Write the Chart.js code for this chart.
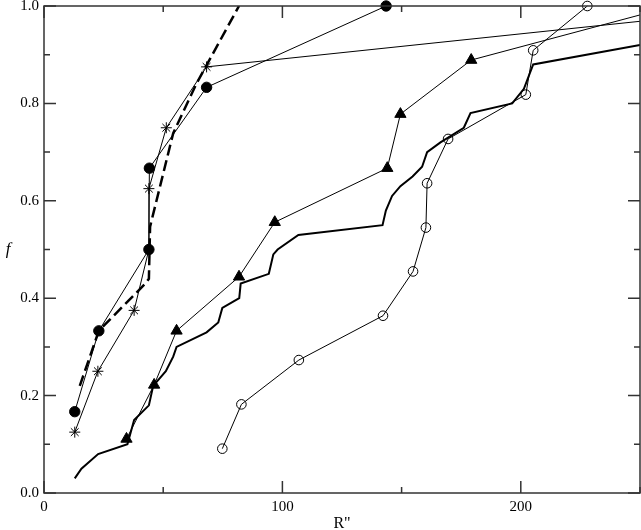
<!DOCTYPE html>
<html>
<head>
<meta charset="utf-8">
<script src="https://cdn.jsdelivr.net/npm/chart.js@4.4.1/dist/chart.umd.min.js"></script>
<style>
  html, body { margin: 0; padding: 0; background: #fff; }
  #wrap { width: 641px; height: 530px; position: relative; }
</style>
</head>
<body>
<div id="wrap"><canvas id="chart"></canvas></div>
<script>
// Dados (R'' no eixo x, f no eixo y)
const dotX = [12.9, 23, 44, 44.2, 68.2, 143.5];
const dotY = [0.167, 0.333, 0.5, 0.667, 0.833, 1.0];

const starX = [12.9, 22.6, 37.8, 44, 44, 51.3, 68.2, 311];
const starY = [0.125, 0.25, 0.375, 0.5, 0.625, 0.75, 0.875, 1.0];

const triX = [34.6, 46.2, 55.6, 81.8, 96.8, 144, 149.5, 179.2, 264];
const triY = [0.111, 0.222, 0.333, 0.444, 0.556, 0.667, 0.778, 0.889, 1.0];

const ringX = [74.8, 82.8, 106.9, 142.2, 154.8, 160.2, 160.7, 169.5, 202.1, 205.2, 227.9];
const ringY = [0.091, 0.182, 0.273, 0.364, 0.455, 0.545, 0.636, 0.727, 0.818, 0.909, 1.0];

const thickX = [12.9, 15.7, 22.7, 35.0, 37.8, 44, 45.8, 51.1, 54.2, 55.6, 68.2, 73.1, 74.8, 81.9, 82.5, 94.3, 96.2, 98, 106.7, 142, 143.4, 146, 149.5, 154.6, 158.6, 160.7, 166.3, 176.1, 178.9, 196.4, 201.3, 205.2, 250];
const thickY = [0.03, 0.05, 0.08, 0.10, 0.15, 0.18, 0.22, 0.25, 0.28, 0.30, 0.33, 0.35, 0.38, 0.40, 0.43, 0.45, 0.49, 0.50, 0.53, 0.55, 0.58, 0.61, 0.63, 0.65, 0.67, 0.70, 0.72, 0.75, 0.78, 0.80, 0.83, 0.88, 0.92];

const dashX = [15, 23, 42.7, 44, 44.5, 54.2, 64, 81.8];
const dashY = [0.22, 0.333, 0.431, 0.44, 0.547, 0.739, 0.841, 1.0];

const xMajor = [0, 100, 200];
const xMinor = [50, 150, 250];
const yMajor = [0, 0.2, 0.4, 0.6, 0.8, 1.0];
const yMinor = [0.1, 0.3, 0.5, 0.7, 0.9];

const FONT = '"Liberation Serif", "DejaVu Serif", serif';

function pts(xs, ys) {
    return xs.map((x, i) => ({ x: x, y: ys[i] }));
}

// zera o padding que o Chart.js reserva para os rótulos nas pontas
function noPad(s) {
    s.paddingTop = 0;
    s.paddingBottom = 0;
    s.paddingLeft = 0;
    s.paddingRight = 0;
}

// moldura, ticks para dentro e o rótulo "f"
const frameTicks = {
    id: 'frameTicks',
    afterDraw(chart) {
        const { ctx, chartArea: a, scales: { x, y } } = chart;
        ctx.save();
        ctx.strokeStyle = '#333';
        ctx.lineWidth = 1.5;
        ctx.strokeRect(a.left, a.top, a.right - a.left, a.bottom - a.top);
        ctx.beginPath();
        const xt = (v, len) => {
            const p = x.getPixelForValue(v);
            ctx.moveTo(p, a.bottom); ctx.lineTo(p, a.bottom - len);
            ctx.moveTo(p, a.top); ctx.lineTo(p, a.top + len);
        };
        const yt = (v, len) => {
            const p = y.getPixelForValue(v);
            ctx.moveTo(a.left, p); ctx.lineTo(a.left + len, p);
            ctx.moveTo(a.right, p); ctx.lineTo(a.right - len, p);
        };
        xMajor.forEach(v => xt(v, 12));
        xMinor.forEach(v => xt(v, 6));
        yMajor.forEach(v => yt(v, 12));
        yMinor.forEach(v => yt(v, 6));
        ctx.stroke();
        ctx.fillStyle = '#000';
        ctx.font = 'italic 17px ' + FONT;
        ctx.textAlign = 'center';
        ctx.textBaseline = 'middle';
        ctx.fillText('f', 8, (a.top + a.bottom) / 2);
        ctx.restore();
    }
};

new Chart(document.getElementById('chart').getContext('2d'), {
    type: 'scatter',
    data: {
        datasets: [
            {
                data: pts(dotX, dotY),
                showLine: true, borderColor: '#000', borderWidth: 1,
                pointStyle: 'circle', pointRadius: 5.2,
                pointBackgroundColor: '#000', pointBorderColor: '#000',
                clip: false
            },
            {
                data: pts(ringX, ringY),
                showLine: true, borderColor: '#000', borderWidth: 1,
                pointStyle: 'circle', pointRadius: 4.8, pointBorderWidth: 1,
                pointBackgroundColor: 'rgba(0,0,0,0)', pointBorderColor: '#000',
                clip: false
            },
            {
                data: pts(starX, starY),
                showLine: true, borderColor: '#000', borderWidth: 1,
                pointStyle: 'star', pointRadius: [5.5, 5.5, 5.5, 0, 5.5, 5.5, 5.5, 5.5],
                pointBorderWidth: 1, pointBorderColor: '#000',
                clip: { left: 10, top: 10, right: 0, bottom: 10 }
            },
            {
                data: pts(triX, triY),
                showLine: true, borderColor: '#000', borderWidth: 1,
                pointStyle: 'triangle', pointRadius: 6.5,
                pointBackgroundColor: '#000', pointBorderColor: '#000',
                clip: { left: 10, top: 10, right: 0, bottom: 10 }
            },
            {
                data: pts(thickX, thickY),
                showLine: true, borderColor: '#000', borderWidth: 2,
                pointRadius: 0
            },
            {
                data: pts(dashX, dashY),
                showLine: true, borderColor: '#000', borderWidth: 2.5,
                borderDash: [11, 5], pointRadius: 0
            }
        ]
    },
    options: {
        responsive: true,
        maintainAspectRatio: false,
        animation: false,
        layout: { autoPadding: false, padding: { top: 6, right: 1, left: 0, bottom: 0 } },
        plugins: {
            legend: { display: false },
            tooltip: { enabled: false }
        },
        scales: {
            x: {
                type: 'linear', min: 0, max: 250,
                afterBuildTicks: s => { s.ticks = xMajor.map(v => ({ value: v })); },
                afterFit: s => { s.height = 37; noPad(s); },
                grid: { display: false, drawTicks: false },
                border: { display: false },
                ticks: {
                    color: '#000', padding: 5, maxRotation: 0,
                    font: { family: FONT, size: 15 },
                    callback: v => String(v)
                },
                title: {
                    display: true, text: 'R"', color: '#000',
                    font: { family: FONT, size: 16, lineHeight: 1 },
                    padding: { top: 0, bottom: -2 }
                }
            },
            y: {
                type: 'linear', min: 0, max: 1,
                afterBuildTicks: s => { s.ticks = yMajor.map(v => ({ value: v })); },
                afterFit: s => { s.width = 44; noPad(s); },
                grid: { display: false, drawTicks: false },
                border: { display: false },
                ticks: {
                    color: '#000', padding: 5,
                    font: { family: FONT, size: 15 },
                    callback: v => v.toFixed(1)
                }
            }
        }
    },
    plugins: [frameTicks]
});
</script>
</body>
</html>
